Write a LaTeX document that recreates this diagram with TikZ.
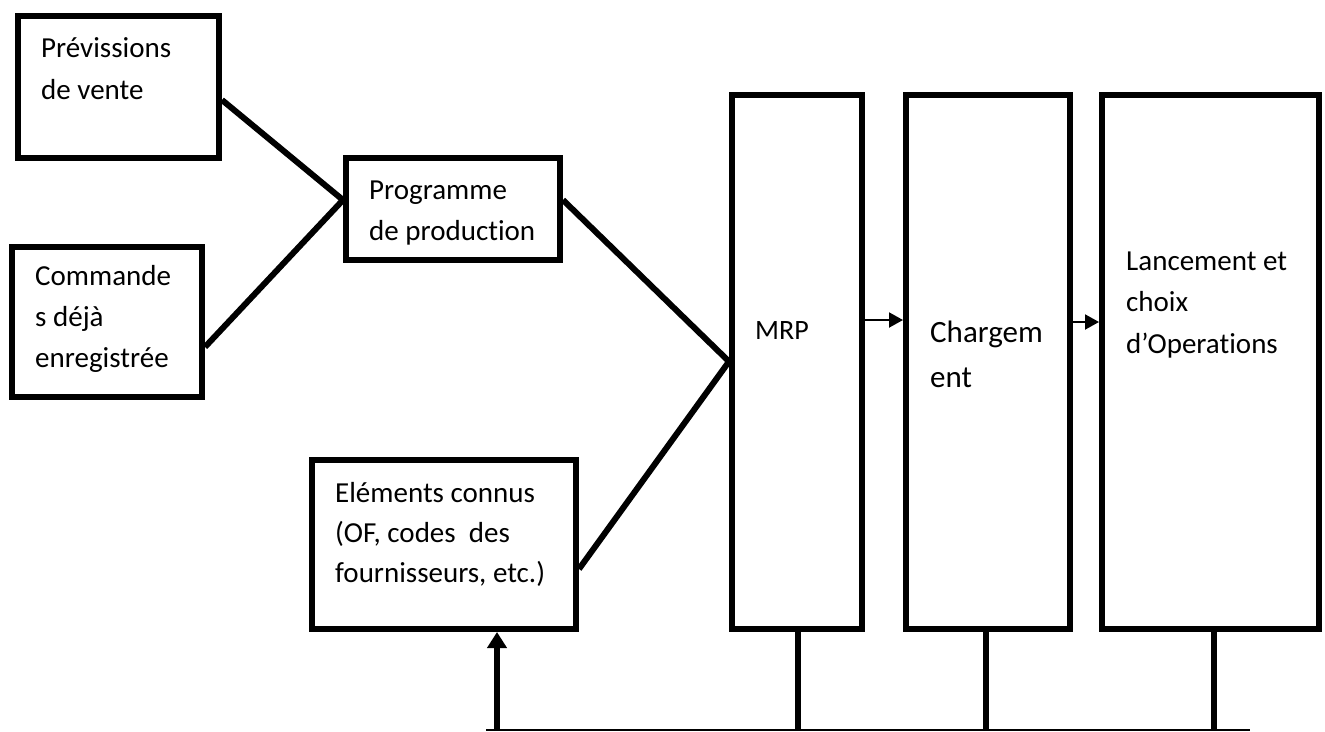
\documentclass[tikz,border=0pt]{standalone}
\usepackage{fontspec}
\setmainfont{Carlito}[Ligatures=NoCommon]
\usetikzlibrary{arrows.meta}
\begin{document}
\begin{tikzpicture}[x=1pt,y=-1pt,
  box/.style={draw, line width=6pt, rectangle, inner sep=0pt},
  % base west of a multi-line label sits on its last line
  lbl/.style={anchor=base west, align=left, inner sep=0pt,
    font=\fontsize{29}{41.5}\selectfont},
  link/.style={line width=6pt, line join=miter},
  flow/.style={line width=2pt, -{Triangle[length=14pt,width=15pt]}},
  feed/.style={line width=6pt, -{Triangle[length=16pt,width=19pt]}},
  drop/.style={line width=5.5pt},
  bus/.style={line width=2.5pt}
]
\useasboundingbox (0,0) rectangle (1325,731);

% boxes
\node[box, minimum width=201pt, minimum height=142pt] (prev) at (118.5,87) {};
\node[box, minimum width=190.5pt, minimum height=150pt] (cmd) at (106.75,321.5) {};
\node[box, minimum width=214pt, minimum height=102pt] (prog) at (453,209) {};
\node[box, minimum width=264pt, minimum height=169pt] (elem) at (444,544.5) {};
\node[box, minimum width=130pt, minimum height=534pt] (mrp) at (797,361.5) {};
\node[box, minimum width=164pt, minimum height=534pt] (charg) at (988,361.5) {};
\node[box, minimum width=217pt, minimum height=534pt] (lanc) at (1210.5,361.5) {};

% texts
\node[lbl, font=\fontsize{29}{42}\selectfont] (prevtxt) at (41,99) {Prévissions\\de vente};
\node[lbl, font=\fontsize{29}{41}\selectfont] (cmdtxt) at (35,367) {Commande\\s déjà\\enregistrée};
\node[lbl, font=\fontsize{29}{41}\selectfont] (progtxt) at (369,240) {Programme\\de production};
\node[lbl, font=\fontsize{29}{40}\selectfont] (elemtxt) at (335,582) {Eléments connus\\(OF, codes\ \ des\\fournisseurs, etc.)};
\node[lbl, font=\fontsize{28}{40}\selectfont] (mrptxt) at (755,339) {MRP};
\node[lbl, font=\fontsize{31}{45}\selectfont] (chargtxt) at (930,387) {Chargem\\ent};
\node[lbl, font=\fontsize{29}{41.5}\selectfont] (lanctxt) at (1126,353) {Lancement et\\choix\\d’Operations};

% inputs to the production programme and to MRP
\draw[link] ([yshift=-13pt]prev.east) -- ([yshift=9pt]prog.west) -- ([yshift=-25.5pt]cmd.east);
\draw[link] ([yshift=9pt]prog.east) -- (mrp.west) -- ([yshift=-24.5pt]elem.east);

% flow between the stages
\draw[flow] ([yshift=41.5pt]mrp.east) -- ([yshift=41.5pt]charg.west);
\draw[flow] ([yshift=39.5pt]charg.east) -- ([yshift=39.5pt]lanc.west);

% feedback bus
\coordinate (busL) at (486,730);
\coordinate (busR) at (1250,730);
\draw[bus] (busL) -- (busR);
\draw[drop] ([xshift=1pt]mrp.south) -- ([xshift=1pt]mrp.south |- busL);
\draw[drop] ([xshift=-2pt]charg.south) -- ([xshift=-2pt]charg.south |- busL);
\draw[drop] ([xshift=3.5pt]lanc.south) -- ([xshift=3.5pt]lanc.south |- busL);
\coordinate (tap) at (497,730);
\draw[feed] (tap) -- (tap |- elem.south);
\end{tikzpicture}
\end{document}
